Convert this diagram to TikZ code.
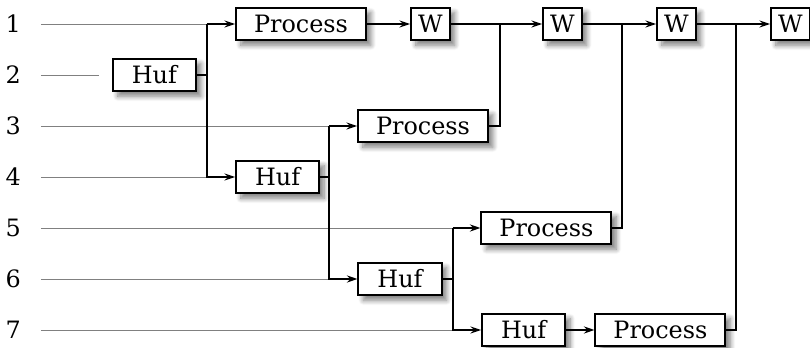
\documentclass[tikz,border=0pt]{standalone}
\usepackage{fontspec}
\setmainfont{DejaVu Serif}
\usepackage{tikz}
\usetikzlibrary{shadows.blur, arrows.meta}

\begin{document}
\begin{tikzpicture}[
    font=\fontsize{17}{20}\selectfont,
    >={Stealth[length=7.5pt, width=5pt, inset=2.5pt]},
    block/.style={draw, rectangle, line width=1.3pt, fill=white, minimum height=0.82cm, inner xsep=0pt,
        blur shadow={shadow xshift=3.5pt, shadow yshift=-3.5pt, shadow blur radius=3.5pt, shadow blur steps=8, shadow opacity=50}},
    proc/.style={block, minimum width=3.25cm},
    huf/.style={block, minimum width=2.08cm},
    wbox/.style={block, minimum width=0.97cm},
    wire/.style={line width=1.3pt},
    flow/.style={wire, ->},
    input/.style={gray, line width=0.7pt}
]
            \useasboundingbox (0,0) rectangle (20.25,-8.7);

            % row labels and where the inputs start
            \foreach \i in {1,...,7} {
                \node (n\i) at (0.33, {-0.6-1.275*(\i-1)}) {\i};
                \coordinate (s\i) at (1.02, {-0.6-1.275*(\i-1)});
            }

            % junctions
            \coordinate (j2) at (5.17,0);
            \coordinate (j4) at (8.23,0);
            \coordinate (j6) at (11.32,0);
            \coordinate (j3) at (12.49,0);
            \coordinate (j5) at (15.55,0);
            \coordinate (j7) at (18.4,0);
            \coordinate (e2) at (2.47,-1.875);

            \node[huf] (huf2) at (3.86,-1.875) {Huf};
            \node[proc] (proc1) at (7.525,-0.6) {Process};
            \node[wbox] (w1) at (10.76,-0.6) {W};
            \node[wbox] (w2) at (14.06,-0.6) {W};
            \node[wbox] (w3) at (16.91,-0.6) {W};
            \node[wbox] (w4) at (19.76,-0.6) {W};
            \node[proc] (proc3) at (10.575,-3.15) {Process};
            \node[huf] (huf4) at (6.94,-4.425) {Huf};
            \node[proc] (proc5) at (13.66,-5.7) {Process};
            \node[huf] (huf6) at (10.0,-6.975) {Huf};
            \node[huf] (huf7) at (13.09,-8.25) {Huf};
            \node[proc] (proc7) at (16.51,-8.25) {Process};

            % inputs
            \draw[input] (s1) -- (s1 -| j2);
            \draw[input] (s2) -- (e2);
            \draw[input] (s3) -- (s3 -| j4);
            \draw[input] (s4) -- (s4 -| j2);
            \draw[input] (s5) -- (s5 -| j6);
            \draw[input] (s6) -- (s6 -| j4);
            \draw[input] (s7) -- (s7 -| j6);

            % splitting
            \draw[wire] (huf2) -- (huf2 -| j2);
            \draw[flow] (j2 |- proc1) -- (proc1);
            \draw[flow] (j2 |- proc1) |- (huf4);
            \draw[wire] (huf4) -- (huf4 -| j4);
            \draw[flow] (j4 |- proc3) -- (proc3);
            \draw[flow] (j4 |- proc3) |- (huf6);
            \draw[wire] (huf6) -- (huf6 -| j6);
            \draw[flow] (j6 |- proc5) -- (proc5);
            \draw[flow] (j6 |- proc5) |- (huf7);
            \draw[flow] (huf7) -- (proc7);

            % merging
            \draw[flow] (proc1) -- (w1);
            \draw[flow] (w1) -- (w2);
            \draw[flow] (w2) -- (w3);
            \draw[flow] (w3) -- (w4);
            \draw[wire] (proc3) -| (j3 |- w1);
            \draw[wire] (proc5) -| (j5 |- w2);
            \draw[wire] (proc7) -| (j7 |- w3);
        \end{tikzpicture}
\end{document}
